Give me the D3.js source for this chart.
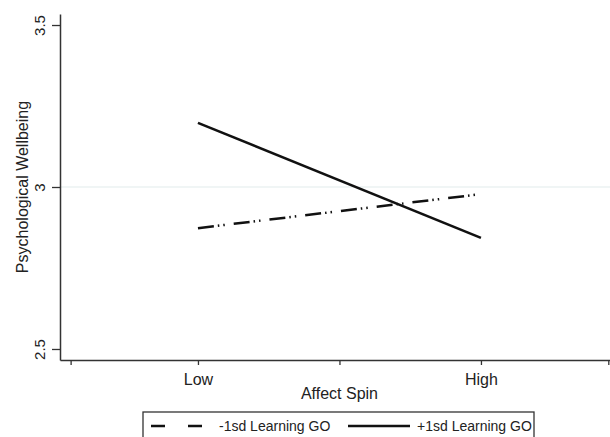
<!DOCTYPE html>
<html>
<head>
<meta charset="utf-8">
<script src="https://cdn.jsdelivr.net/npm/d3@7"></script>
<style>
  body { margin: 0; background: #fff; }
  text { font-family: "Liberation Sans", Arial, sans-serif; fill: #222; }
</style>
</head>
<body>
<div id="chart"></div>
<script>
// data
const levels = ["Low", "High"];
const levelX = [-1, 1];
const minusSd = [2.873, 2.978];   // -1sd Learning GO
const plusSd = [3.198, 2.843];    // +1sd Learning GO
const yTicks = [2.5, 3, 3.5];
const xTicks = [-1.9, -1, 0, 1, 1.9];
const seriesNames = ["-1sd Learning GO", "+1sd Learning GO"];

const width = 610, height = 437;

const svg = d3.select("#chart")
  .append("svg")
    .attr("width", width)
    .attr("height", height);

const x = d3.scaleLinear().domain([-1.975, 1.912]).range([60, 610]);
const y = d3.scaleLinear().domain([2.466, 3.534]).range([360, 14]);

// reference line at 3
svg.append("line")
  .attr("x1", x.range()[0]).attr("x2", x.range()[1])
  .attr("y1", y(3)).attr("y2", y(3))
  .attr("stroke", "#e2ecec")
  .attr("stroke-width", 1.2);

// y axis
const yAxis = svg.append("g")
  .attr("transform", "translate(60,0)")
  .call(d3.axisLeft(y).tickValues(yTicks).tickFormat(d3.format("")).tickSize(8).tickSizeOuter(0));
yAxis.select(".domain").attr("stroke", "#333").attr("stroke-width", 1.5);
yAxis.selectAll(".tick line").attr("stroke", "#333").attr("stroke-width", 1.3);
yAxis.selectAll(".tick text")
  .attr("x", 0).attr("dy", null)
  .attr("transform", "translate(-21,0) rotate(-90)")
  .attr("text-anchor", "middle")
  .attr("dominant-baseline", "central")
  .style("font-size", "15px")
  .attr("fill", "#222");

// x axis
const xAxis = svg.append("g")
  .attr("transform", "translate(0,360)")
  .call(d3.axisBottom(x).tickValues(xTicks)
    .tickFormat(d => { const i = levelX.indexOf(d); return i >= 0 ? levels[i] : ""; })
    .tickSize(5).tickSizeOuter(0).tickPadding(9));
xAxis.select(".domain").attr("stroke", "#333").attr("stroke-width", 1.5);
xAxis.selectAll(".tick line").attr("stroke", "#333").attr("stroke-width", 1.3);
xAxis.selectAll(".tick text").style("font-size", "16px").attr("fill", "#222");

// axis titles
svg.append("text")
  .attr("x", x(0)).attr("y", 399)
  .attr("text-anchor", "middle")
  .style("font-size", "16px")
  .text("Affect Spin");

svg.append("text")
  .attr("transform", "translate(22," + y(3) + ") rotate(-90)")
  .attr("text-anchor", "middle")
  .attr("dominant-baseline", "central")
  .style("font-size", "16px")
  .text("Psychological Wellbeing");

// lines
const line = d3.line().x((d, i) => x(levelX[i])).y(d => y(d));

svg.append("path")
  .datum(minusSd)
  .attr("d", line)
  .attr("fill", "none")
  .attr("stroke", "#111")
  .attr("stroke-width", 2.5)
  .attr("stroke-dasharray", "16,4,1.5,4,1.5,9");

svg.append("path")
  .datum(plusSd)
  .attr("d", line)
  .attr("fill", "none")
  .attr("stroke", "#111")
  .attr("stroke-width", 2.6);

// legend
const legend = svg.append("g");
legend.append("rect")
  .attr("x", 143).attr("y", 412)
  .attr("width", 391).attr("height", 40)
  .attr("fill", "none")
  .attr("stroke", "#333")
  .attr("stroke-width", 1.3);

legend.append("line")
  .attr("x1", 151).attr("x2", 205).attr("y1", 426).attr("y2", 426)
  .attr("stroke", "#111").attr("stroke-width", 2.6)
  .attr("stroke-dasharray", "14,23");
legend.append("text")
  .attr("x", 219).attr("y", 431)
  .style("font-size", "14px")
  .text(seriesNames[0]);

legend.append("line")
  .attr("x1", 348).attr("x2", 410).attr("y1", 426).attr("y2", 426)
  .attr("stroke", "#111").attr("stroke-width", 2.6);
legend.append("text")
  .attr("x", 417).attr("y", 431)
  .style("font-size", "14px")
  .text(seriesNames[1]);
</script>
</body>
</html>
